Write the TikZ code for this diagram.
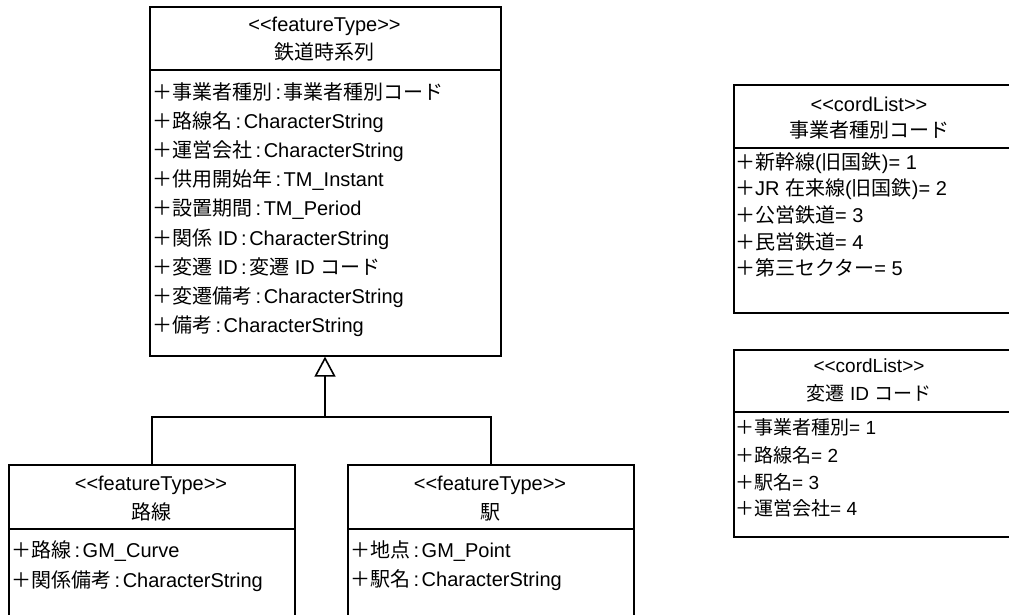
\documentclass[tikz,border=0pt]{standalone}
\usepackage{fontspec}
\newfontfamily\jp{Noto Sans CJK JP}
\newfontfamily\latf{Liberation Sans}
\newcommand\J[1]{{\jp #1}}
\newcommand\cl{\hspace{3.5pt}:\hspace{2.5pt}}
\usetikzlibrary{arrows.meta}
\tikzset{
  umlbox/.style={draw, line width=1.6pt, rectangle, inner sep=0pt, anchor=north west},
  sepline/.style={line width=1.6pt},
  conn/.style={line width=1.6pt},
  gen/.style={line width=1.6pt, -{Triangle[open, length=20pt, width=21pt]}},
  big/.style={font=\latf\fontsize{20}{24}\selectfont, inner sep=0pt, text height=17.6pt, text depth=2.4pt},
  small/.style={font=\latf\fontsize{19}{23}\selectfont, inner sep=0pt, text height=16.7pt, text depth=2.3pt},
  attr/.style={anchor=west},
}
\begin{document}
\begin{tikzpicture}[x=1pt, y=-1pt]
\useasboundingbox (0,0) rectangle (1009,615);
\clip (0,0) rectangle (1009,615);

% main class
\node[umlbox, minimum width=351pt, minimum height=349pt] (main) at (149,6) {};
\draw[sepline] (main.west |- 0,70) -- (main.east |- 0,70);
\node[big] (mst) at (324.5,24) {<<featureType>>};
\node[big] (mnm) at (324.5,52) {\J{鉄道時系列}};
\node[big, attr] (ma1) at (152,92) {\J{＋事業者種別}\cl\J{事業者種別コード}};
\node[big, attr] (ma2) at (152,121) {\J{＋路線名}\cl CharacterString};
\node[big, attr] (ma3) at (152,150) {\J{＋運営会社}\cl CharacterString};
\node[big, attr] (ma4) at (152,179) {\J{＋供用開始年}\cl TM\_Instant};
\node[big, attr] (ma5) at (152,208) {\J{＋設置期間}\cl TM\_Period};
\node[big, attr] (ma6) at (152,238) {\J{＋関係} ID\cl CharacterString};
\node[big, attr] (ma7) at (152,267) {\J{＋変遷} ID\cl\J{変遷} ID \J{コード}};
\node[big, attr] (ma8) at (152,296) {\J{＋変遷備考}\cl CharacterString};
\node[big, attr] (ma9) at (152,325) {\J{＋備考}\cl CharacterString};

% route
\node[umlbox, minimum width=286pt, minimum height=175pt] (route) at (8,464) {};
\draw[sepline] (route.west |- 0,529) -- (route.east |- 0,529);
\node[big] (rst) at (151,483) {<<featureType>>};
\node[big] (rnm) at (151,512) {\J{路線}};
\node[big, attr] (ra1) at (11,550) {\J{＋路線}\cl GM\_Curve};
\node[big, attr] (ra2) at (11,580) {\J{＋関係備考}\cl CharacterString};

% station
\node[umlbox, minimum width=286pt, minimum height=175pt] (station) at (347,464) {};
\draw[sepline] (station.west |- 0,529) -- (station.east |- 0,529);
\node[big] (sst) at (490,483) {<<featureType>>};
\node[big] (snm) at (490,512) {\J{駅}};
\node[big, attr] (sa1) at (350,550) {\J{＋地点}\cl GM\_Point};
\node[big, attr] (sa2) at (350,579) {\J{＋駅名}\cl CharacterString};

% generalization
\coordinate (j) at (325,417);
\draw[conn] (route.north) -- (route.north |- j) -- (station.north |- j) -- (station.north);
\draw[gen] (j) -- (j |- main.south);

% code list 1
\node[umlbox, minimum width=279pt, minimum height=228pt] (opcode) at (733,84) {};
\draw[sepline] (opcode.west |- 0,148) -- (opcode.east |- 0,148);
\node[big] (ost) at (869,104) {<<cordList>>};
\node[big] (onm) at (869,130) {\J{事業者種別コード}};
\node[big, attr] (oa1) at (735,162) {\J{＋新幹線}(\J{旧国鉄})= 1};
\node[big, attr] (oa2) at (735,188) {\J{＋}JR \J{在来線}(\J{旧国鉄})= 2};
\node[big, attr] (oa3) at (735,215) {\J{＋公営鉄道}= 3};
\node[big, attr] (oa4) at (735,242) {\J{＋民営鉄道}= 4};
\node[big, attr] (oa5) at (735,268) {\J{＋第三セクター}= 5};

% code list 2
\node[umlbox, minimum width=279pt, minimum height=187pt] (chgcode) at (733,349) {};
\draw[sepline] (chgcode.west |- 0,412) -- (chgcode.east |- 0,412);
\node[small] (cst) at (869,365) {<<cordList>>};
\node[small] (cnm) at (869,393) {\J{変遷} ID \J{コード}};
\node[small, attr] (ca1) at (735,427) {\J{＋事業者種別}= 1};
\node[small, attr] (ca2) at (735,455) {\J{＋路線名}= 2};
\node[small, attr] (ca3) at (735,482) {\J{＋駅名}= 3};
\node[small, attr] (ca4) at (735,508) {\J{＋運営会社}= 4};
\end{tikzpicture}
\end{document}
